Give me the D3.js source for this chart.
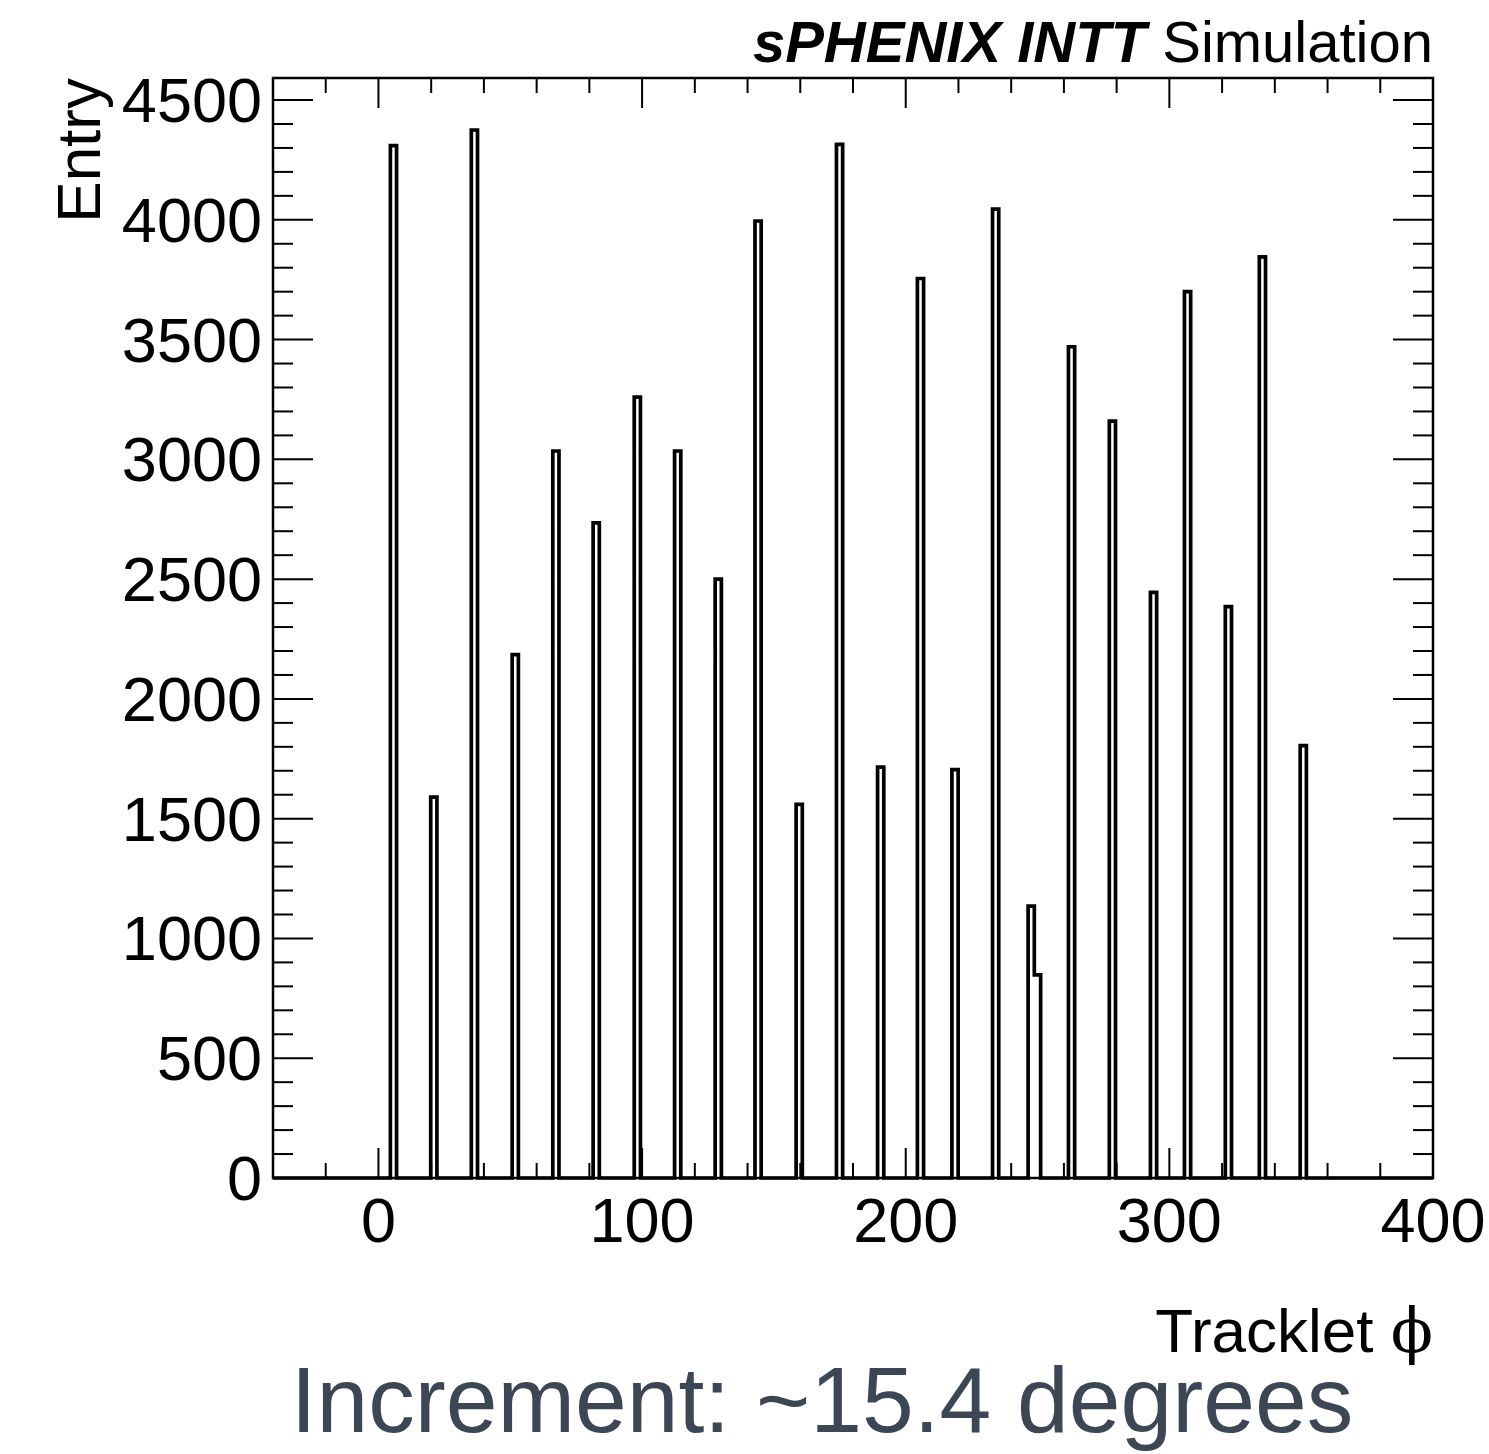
<!DOCTYPE html>
<html>
<head>
<meta charset="utf-8">
<script src="https://cdn.jsdelivr.net/npm/d3@7"></script>
<style>
  body { margin: 0; background: #fff; }
  text { font-family: "Liberation Sans", Arial, sans-serif; }
</style>
</head>
<body>
<svg id="svg" width="1489" height="1454"></svg>
<script>
// bin centres (tracklet phi, degrees) and entries
var phiCenters = [5.7, 21.0, 36.4, 51.9, 67.3, 82.6, 98.2, 113.5, 128.9, 144.0, 159.6, 174.9,
                  190.5, 205.6, 218.7, 234.1, 247.6, 250.0, 262.9, 278.4, 294.0, 306.9, 322.4, 335.3, 350.8];
var entries = [4310, 1590, 4375, 2185, 3035, 2735, 3260, 3035, 2500, 3995, 1560, 4315,
               1715, 3755, 1705, 4045, 1135, 848, 3470, 3160, 2445, 3700, 2385, 3845, 1805];
var binWidth = 2.35;
var xTicks = [0, 100, 200, 300, 400];
var yTicks = [0, 500, 1000, 1500, 2000, 2500, 3000, 3500, 4000, 4500];

var svg = d3.select("#svg");
var padL = 273, padT = 78, padR = 1433, padB = 1178;

var x = d3.scaleLinear().domain([-40, 400]).range([padL, padR]);
var y = d3.scaleLinear().domain([0, 4592]).range([padB, padT]);

// histogram outline as one step path along the baseline
var pts = [[-40, 0]];
phiCenters.forEach(function(c, i) {
  var l = c - binWidth / 2, r = c + binWidth / 2;
  var prev = pts[pts.length - 1];
  if (Math.abs(prev[0] - l) < 0.3 && prev[1] > 0) {
    pts.push([prev[0], entries[i]]);
  } else {
    pts.push([l, 0]);
    pts.push([l, entries[i]]);
  }
  pts.push([r, entries[i]]);
  var next = phiCenters[i + 1];
  if (next === undefined || Math.abs((next - binWidth / 2) - r) > 0.3) pts.push([r, 0]);
});
pts.push([400, 0]);

var line = d3.line().x(function(d) { return x(d[0]); }).y(function(d) { return y(d[1]); });
svg.append("path").attr("d", line(pts))
  .attr("fill", "none").attr("stroke", "#000").attr("stroke-width", 3.7)
  .attr("stroke-linejoin", "miter");

// ticks on all four sides
var xMinor = d3.range(-40, 401, 20);
var yMinor = d3.range(0, 4592, 100);
var tg = svg.append("g").attr("stroke", "#000").attr("stroke-width", 2);
xMinor.forEach(function(v) {
  var len = (v % 100 === 0) ? 30 : 15;
  tg.append("line").attr("x1", x(v)).attr("x2", x(v)).attr("y1", padB).attr("y2", padB - len);
  tg.append("line").attr("x1", x(v)).attr("x2", x(v)).attr("y1", padT).attr("y2", padT + len);
});
yMinor.forEach(function(v) {
  var len = (v % 500 === 0) ? 40 : 20;
  tg.append("line").attr("y1", y(v)).attr("y2", y(v)).attr("x1", padL).attr("x2", padL + len);
  tg.append("line").attr("y1", y(v)).attr("y2", y(v)).attr("x1", padR).attr("x2", padR - len);
});

svg.append("rect").attr("x", padL).attr("y", padT)
  .attr("width", padR - padL).attr("height", padB - padT)
  .attr("fill", "none").attr("stroke", "#000").attr("stroke-width", 2.5);

// tick labels
svg.selectAll(".xl").data(xTicks).enter().append("text")
  .attr("x", function(d) { return x(d); }).attr("y", 1242)
  .attr("text-anchor", "middle").attr("font-size", 63)
  .text(function(d) { return d; });
svg.selectAll(".yl").data(yTicks).enter().append("text")
  .attr("x", 262).attr("y", function(d) { return y(d) + 22; })
  .attr("text-anchor", "end").attr("font-size", 63)
  .text(function(d) { return d; });

// axis titles
svg.append("text").attr("transform", "translate(100,78) rotate(-90)")
  .attr("text-anchor", "end").attr("font-size", 62).text("Entry");
var xt = svg.append("text").attr("x", 1433).attr("y", 1352)
  .attr("text-anchor", "end").attr("font-size", 62);
xt.append("tspan").text("Tracklet ");
xt.append("tspan").attr("font-family", "DejaVu Serif").text("ϕ");

var head = svg.append("text").attr("x", 1433).attr("y", 62)
  .attr("text-anchor", "end").attr("font-size", 58);
head.append("tspan").attr("font-weight", "bold").attr("font-style", "italic").text("sPHENIX INTT");
head.append("tspan").text(" Simulation");

svg.append("text").attr("x", 822).attr("y", 1432)
  .attr("text-anchor", "middle").attr("font-size", 93).attr("fill", "#3c4654")
  .text("Increment: ~15.4 degrees");
</script>
</body>
</html>
